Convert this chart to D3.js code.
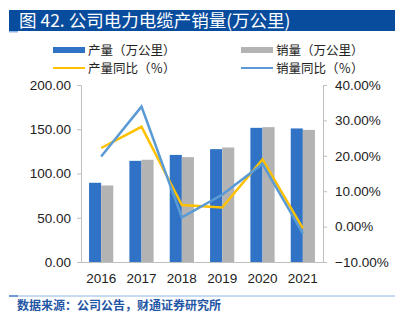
<!DOCTYPE html>
<html>
<head>
<meta charset="utf-8">
<script src="https://cdn.jsdelivr.net/npm/d3@7"></script>
<style>
  body { margin: 0; background: #fff; }
  svg { display: block; }
  text { font-family: "Liberation Sans", Arial, "Noto Sans CJK SC", sans-serif; }
  .cn { font-family: "Noto Sans CJK SC", sans-serif; }
</style>
</head>
<body>
<script>
// cable output / sales (10k km) and year-on-year growth (%)
var years = ["2016", "2017", "2018", "2019", "2020", "2021"];
var output = [89.5, 114.3, 121.0, 127.5, 151.6, 150.9];
var sales = [86.5, 115.5, 118.5, 129.4, 152.4, 149.3];
var outputYoY = [22.2, 28.2, 6.1, 5.4, 19.0, -0.5];
var salesYoY = [19.8, 33.9, 2.6, 9.0, 17.7, -1.9];
var leftTicks = [0, 50, 100, 150, 200];
var rightTicks = [-10, 0, 10, 20, 30, 40];

var width = 405,
    height = 324;

var svg = d3.select("body")
  .append("svg")
  .attr("width", width)
  .attr("height", height);

// title banner
svg.append("rect")
  .attr("x", 9).attr("y", 10)
  .attr("width", 386).attr("height", 21)
  .attr("fill", "#084C9E");
svg.append("rect")
  .attr("x", 9).attr("y", 31)
  .attr("width", 9).attr("height", 1.5)
  .attr("fill", "#8EB4E3");
svg.append("text")
  .attr("class", "cn")
  .attr("x", 19).attr("y", 27)
  .attr("fill", "#fff")
  .attr("font-size", 17.5)
  .text("图 42. 公司电力电缆产销量(万公里)");

// scales
var x0 = d3.scaleBand()
  .domain(years)
  .range([81, 323])
  .paddingInner(0.4)
  .paddingOuter(0.2);

var x1 = d3.scaleBand()
  .domain(["output", "sales"])
  .range([0, x0.bandwidth()]);

var yL = d3.scaleLinear().domain([0, 200]).range([262, 85]);
var yR = d3.scaleLinear().domain([-10, 40]).range([262, 85]);

// axes
var axisColor = "#BFBFBF";
var leftAxis = svg.append("g")
  .attr("transform", "translate(81,0)")
  .call(d3.axisLeft(yL).tickValues(leftTicks).tickSize(4).tickPadding(6)
    .tickFormat(d3.format(".2f")));
var rightAxis = svg.append("g")
  .attr("transform", "translate(323,0)")
  .call(d3.axisRight(yR).tickValues(rightTicks).tickSize(4).tickPadding(8)
    .tickFormat(function(d){ return d3.format(".2f")(d) + "%"; }));

[leftAxis, rightAxis].forEach(function(a){
  a.selectAll("path").attr("stroke", axisColor);
  a.selectAll("line").attr("stroke", axisColor);
  a.selectAll("text")
    .attr("font-size", 13.5)
    .attr("fill", "#222");
});

var bottom = svg.append("g")
  .attr("transform", "translate(0,262)")
  .call(d3.axisBottom(x0).tickSize(0).tickPadding(11));
bottom.select("path").attr("stroke", axisColor);
bottom.selectAll("text")
  .attr("font-size", 13.5)
  .attr("fill", "#222");

// bars
var colors = { output: "#2F72C6", sales: "#B3B3B3" };
var rows = years.map(function(y, i){
  return { year: y, output: output[i], sales: sales[i] };
});

svg.append("g")
  .selectAll("g")
  .data(rows)
  .enter()
  .append("g")
  .attr("transform", function(d){ return "translate(" + x0(d.year) + ",0)"; })
  .selectAll("rect")
  .data(function(d){ return ["output", "sales"].map(function(k){ return { key: k, value: d[k] }; }); })
  .enter()
  .append("rect")
  .attr("x", function(d){ return x1(d.key); })
  .attr("y", function(d){ return yL(d.value); })
  .attr("width", x1.bandwidth())
  .attr("height", function(d){ return yL(0) - yL(d.value); })
  .attr("fill", function(d){ return colors[d.key]; });

// growth lines
var line = d3.line()
  .x(function(d, i){ return x0(years[i]) + x0.bandwidth() / 2; })
  .y(function(d){ return yR(d); });

svg.append("path")
  .datum(outputYoY)
  .attr("d", line)
  .attr("fill", "none")
  .attr("stroke", "#FFC000")
  .attr("stroke-width", 2.5);

svg.append("path")
  .datum(salesYoY)
  .attr("d", line)
  .attr("fill", "none")
  .attr("stroke", "#5B9BD5")
  .attr("stroke-width", 2.5);

// legend
var legend = [
  { label: "产量（万公里）", color: "#2F72C6", type: "bar", x: 53, y: 50 },
  { label: "销量（万公里）", color: "#B3B3B3", type: "bar", x: 241, y: 50 },
  { label: "产量同比（％）", color: "#FFC000", type: "line", x: 53, y: 68 },
  { label: "销量同比（％）", color: "#5B9BD5", type: "line", x: 241, y: 68 }
];

var lg = svg.append("g")
  .selectAll("g")
  .data(legend)
  .enter()
  .append("g")
  .attr("transform", function(d){ return "translate(" + d.x + "," + d.y + ")"; });

lg.append("rect")
  .attr("x", 0)
  .attr("y", function(d){ return d.type === "bar" ? -3 : -1; })
  .attr("width", 32)
  .attr("height", function(d){ return d.type === "bar" ? 6 : 2; })
  .attr("fill", function(d){ return d.color; });

lg.append("text")
  .attr("class", "cn")
  .attr("x", 35)
  .attr("y", 4.5)
  .attr("font-size", 12.5)
  .attr("fill", "#222")
  .text(function(d){ return d.label; });

// source footer
svg.append("line")
  .attr("x1", 9).attr("x2", 395)
  .attr("y1", 296).attr("y2", 296)
  .attr("stroke", "#8EB4E3")
  .attr("stroke-width", 1);
svg.append("rect")
  .attr("x", 9).attr("y", 295)
  .attr("width", 9).attr("height", 2)
  .attr("fill", "#6F9AD3");
svg.append("text")
  .attr("class", "cn")
  .attr("x", 17).attr("y", 310)
  .attr("font-size", 12)
  .attr("font-weight", "bold")
  .attr("fill", "#1F56A5")
  .text("数据来源：公司公告，财通证券研究所");
</script>
</body>
</html>
